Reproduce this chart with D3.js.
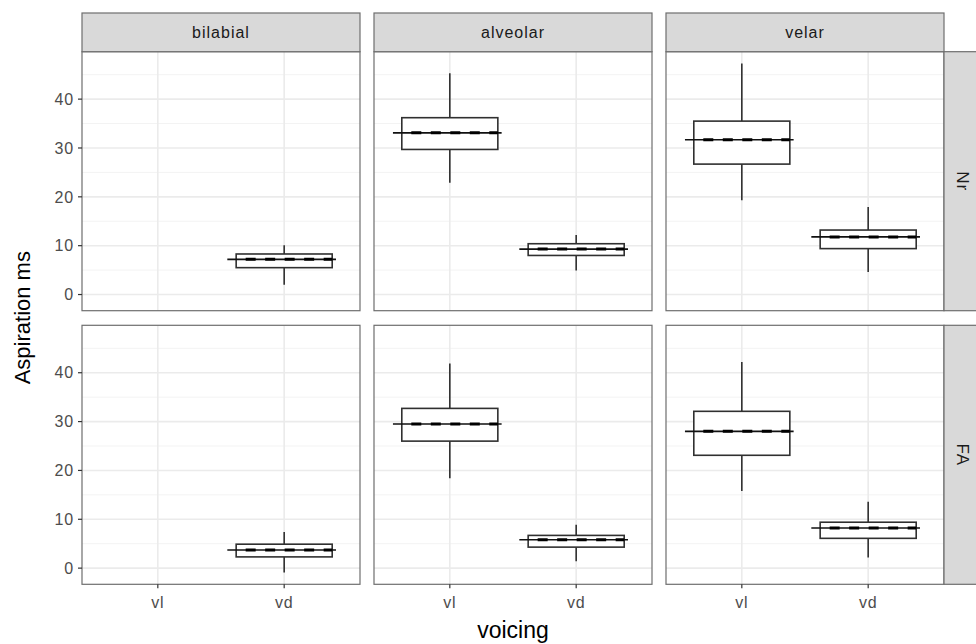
<!DOCTYPE html>
<html>
<head>
<meta charset="utf-8">
<script src="https://cdn.jsdelivr.net/npm/d3@7"></script>
<style>
  body { margin: 0; background: #fff; }
  text { font-family: "Liberation Sans", Arial, sans-serif; }
</style>
</head>
<body>
<svg id="chart" width="976" height="644"></svg>
<script>
// facets and categories
var places = ['bilabial', 'alveolar', 'velar']
var speakers = ['Nr', 'FA']
var voicing = ['vl', 'vd']
var yTicks = [0, 10, 20, 30, 40]

// summary values, order: Nr (bilabial vl, vd, alveolar vl, vd, velar vl, vd), then FA
var whiskerHigh = [null, 10.1, 45.3, 12.2, 47.3, 17.9,  null, 7.4, 41.9, 8.9, 42.2, 13.6]
var boxHigh     = [null, 8.3, 36.2, 10.4, 35.5, 13.2,   null, 4.9, 32.7, 6.7, 32.1, 9.4]
var meanVal     = [null, 7.2, 33.1, 9.3, 31.7, 11.8,    null, 3.7, 29.5, 5.8, 28.0, 8.2]
var boxLow      = [null, 5.5, 29.7, 8.0, 26.7, 9.4,     null, 2.3, 26.0, 4.3, 23.1, 6.1]
var whiskerLow  = [null, 2.0, 22.9, 4.9, 19.3, 4.6,     null, -0.9, 18.4, 1.4, 15.8, 2.2]

var svg = d3.select('#chart')

var plotLeft = 82, plotTop = 51.7, pw = 278, ph = 259, gap = 14, stripH = 38.7

// build rows from the arrays
var rows = []
speakers.forEach(function (s, si) {
    places.forEach(function (p, pi) {
        voicing.forEach(function (v, vi) {
            var i = si * 6 + pi * 2 + vi
            if (meanVal[i] == null) return
            rows.push({speaker: s, place: p, voicing: v,
                ymin: whiskerLow[i], lower: boxLow[i], mean: meanVal[i],
                upper: boxHigh[i], ymax: whiskerHigh[i]})
        })
    })
})

var x = d3.scalePoint().domain(voicing).range([0, pw]).padding(0.6)
var unit = x.step()
var dataMin = d3.min(whiskerLow), dataMax = d3.max(whiskerHigh)
var pad = (dataMax - dataMin) * 0.05
var y = d3.scaleLinear().domain([dataMin - pad, dataMax + pad]).range([ph, 0])

var minorTicks = d3.range(5, 50, 10)
var lineCol = '#303030'

speakers.forEach(function (s, si) {
    places.forEach(function (p, pi) {
        var px = plotLeft + pi * (pw + gap)
        var py = plotTop + si * (ph + gap + 0.6)
        var g = svg.append('g').attr('transform', 'translate(' + px + ',' + py + ')')

        g.append('rect').attr('width', pw).attr('height', ph).attr('fill', '#fff')

        // grid
        g.selectAll('.minor').data(minorTicks).enter().append('line')
            .attr('x1', 0).attr('x2', pw)
            .attr('y1', d => y(d)).attr('y2', d => y(d))
            .attr('stroke', '#f3f3f3').attr('stroke-width', 1)
        g.selectAll('.major').data(yTicks).enter().append('line')
            .attr('x1', 0).attr('x2', pw)
            .attr('y1', d => y(d)).attr('y2', d => y(d))
            .attr('stroke', '#ebebeb').attr('stroke-width', 1.6)
        g.selectAll('.vmajor').data(voicing).enter().append('line')
            .attr('x1', d => x(d)).attr('x2', d => x(d))
            .attr('y1', 0).attr('y2', ph)
            .attr('stroke', '#ebebeb').attr('stroke-width', 1.6)

        var data = rows.filter(d => d.speaker == s && d.place == p)
        var bw = unit * 0.76

        var b = g.selectAll('.box').data(data).enter().append('g')

        b.append('line')
            .attr('x1', d => x(d.voicing)).attr('x2', d => x(d.voicing))
            .attr('y1', d => y(d.ymax)).attr('y2', d => y(d.upper))
            .attr('stroke', lineCol).attr('stroke-width', 1.6)
        b.append('line')
            .attr('x1', d => x(d.voicing)).attr('x2', d => x(d.voicing))
            .attr('y1', d => y(d.lower)).attr('y2', d => y(d.ymin))
            .attr('stroke', lineCol).attr('stroke-width', 1.6)
        b.append('rect')
            .attr('x', d => x(d.voicing) - bw / 2)
            .attr('y', d => y(d.upper))
            .attr('width', bw)
            .attr('height', d => y(d.lower) - y(d.upper))
            .attr('fill', '#fff').attr('stroke', lineCol).attr('stroke-width', 1.6)
        // thin mean line, a bit wider than the box
        b.append('line')
            .attr('x1', d => x(d.voicing) - unit * 0.45)
            .attr('x2', d => x(d.voicing) + unit * 0.41)
            .attr('y1', d => y(d.mean)).attr('y2', d => y(d.mean))
            .attr('stroke', '#111').attr('stroke-width', 1.6)
        // dashed mean line
        b.append('line')
            .attr('x1', d => x(d.voicing) - bw / 2)
            .attr('x2', d => x(d.voicing) + bw / 2)
            .attr('y1', d => y(d.mean)).attr('y2', d => y(d.mean))
            .attr('stroke', '#000').attr('stroke-width', 3)
            .attr('stroke-dasharray', '10,9.5').attr('stroke-dashoffset', 10)

        g.append('rect').attr('width', pw).attr('height', ph)
            .attr('fill', 'none').attr('stroke', '#6e6e6e').attr('stroke-width', 1.2)

        // y axis on first column
        if (pi == 0) {
            g.selectAll('.yt').data(yTicks).enter().append('line')
                .attr('x1', -4).attr('x2', 0)
                .attr('y1', d => y(d)).attr('y2', d => y(d))
                .attr('stroke', '#333').attr('stroke-width', 1.2)
            g.selectAll('.yl').data(yTicks).enter().append('text')
                .attr('x', -8).attr('y', d => y(d))
                .attr('dy', '0.36em').attr('text-anchor', 'end')
                .attr('font-size', 16).attr('letter-spacing', 0.8).attr('fill', '#4d4d4d')
                .text(d => d)
        }
        // x axis on bottom row
        if (si == speakers.length - 1) {
            g.selectAll('.xt').data(voicing).enter().append('line')
                .attr('x1', d => x(d)).attr('x2', d => x(d))
                .attr('y1', ph).attr('y2', ph + 4)
                .attr('stroke', '#333').attr('stroke-width', 1.2)
            g.selectAll('.xl').data(voicing).enter().append('text')
                .attr('x', d => x(d)).attr('y', ph + 24)
                .attr('text-anchor', 'middle')
                .attr('font-size', 16).attr('letter-spacing', 0.8).attr('fill', '#4d4d4d')
                .text(d => d)
        }
        // top strips
        if (si == 0) {
            svg.append('rect').attr('x', px).attr('y', plotTop - stripH)
                .attr('width', pw).attr('height', stripH)
                .attr('fill', '#d9d9d9').attr('stroke', '#6e6e6e').attr('stroke-width', 1.2)
            svg.append('text').attr('x', px + pw / 2).attr('y', plotTop - stripH / 2)
                .attr('dy', '0.35em').attr('text-anchor', 'middle')
                .attr('font-size', 16).attr('letter-spacing', 1).attr('fill', '#1a1a1a')
                .text(p)
        }
        // right strips
        if (pi == places.length - 1) {
            svg.append('rect').attr('x', px + pw).attr('y', py)
                .attr('width', stripH).attr('height', ph)
                .attr('fill', '#d9d9d9').attr('stroke', '#6e6e6e').attr('stroke-width', 1.2)
            svg.append('text')
                .attr('transform', 'translate(' + (px + pw + stripH / 2) + ',' + (py + ph / 2) + ') rotate(90)')
                .attr('dy', '0.35em').attr('text-anchor', 'middle')
                .attr('font-size', 17).attr('letter-spacing', 1).attr('fill', '#1a1a1a')
                .text(s)
        }
    })
})

// axis titles
svg.append('text')
    .attr('transform', 'translate(22,' + (plotTop + ph + gap / 2) + ') rotate(-90)')
    .attr('dy', '0.35em').attr('text-anchor', 'middle')
    .attr('font-size', 22).attr('fill', '#000')
    .text('Aspiration ms')
svg.append('text')
    .attr('x', plotLeft + (3 * pw + 2 * gap) / 2).attr('y', 638)
    .attr('text-anchor', 'middle')
    .attr('font-size', 23).attr('fill', '#000')
    .text('voicing')
</script>
</body>
</html>
